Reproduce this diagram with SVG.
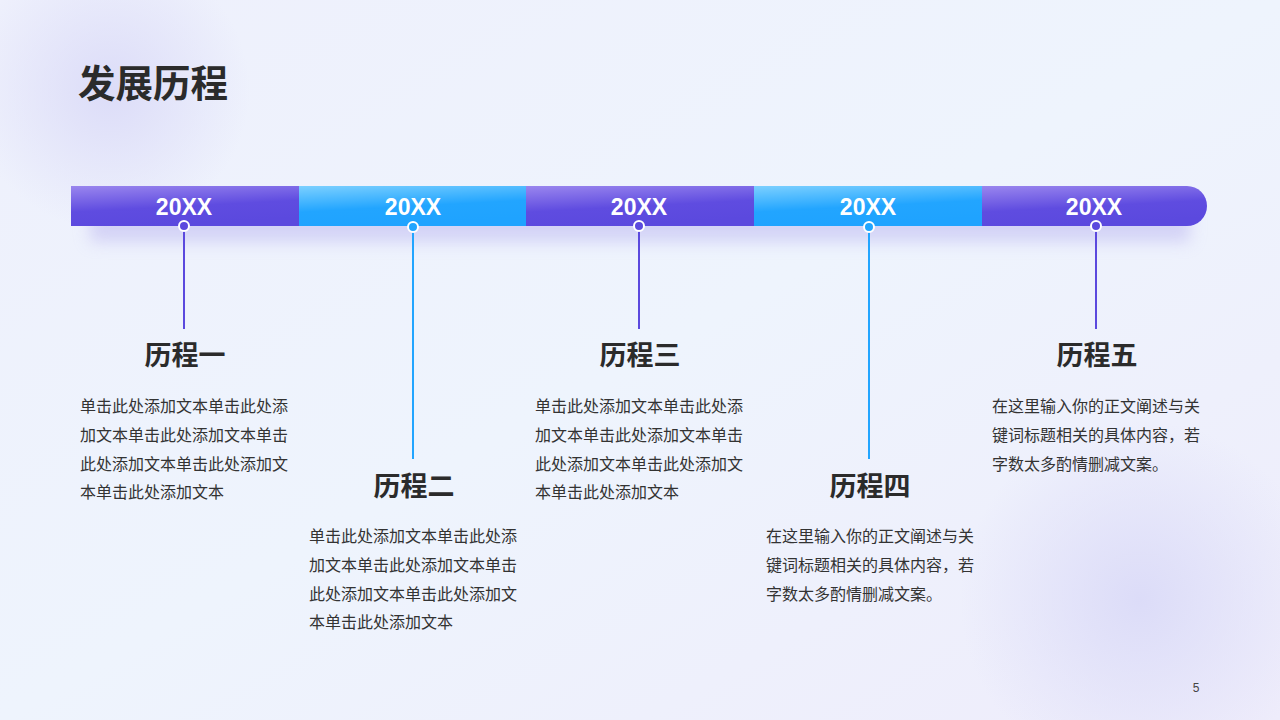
<svg xmlns="http://www.w3.org/2000/svg" width="1280" height="720" viewBox="0 0 1280 720">
<defs>
<linearGradient id="bg" x1="0" y1="0" x2="1" y2="1"><stop offset="0" stop-color="#eef0fc"/><stop offset="0.5" stop-color="#eef4fd"/><stop offset="1" stop-color="#eeecfb"/></linearGradient>
<radialGradient id="glow1" cx="0.5" cy="0.5" r="0.5"><stop offset="0" stop-color="#dcdcf8"/><stop offset="1" stop-color="#dcdcf8" stop-opacity="0"/></radialGradient>
<linearGradient id="gp" x1="0" y1="0" x2="0.3" y2="1"><stop offset="0" stop-color="#9a86ee"/><stop offset="0.6" stop-color="#5f4ce0"/><stop offset="1" stop-color="#5b49de"/></linearGradient>
<linearGradient id="gb" x1="0" y1="0" x2="0.3" y2="1"><stop offset="0" stop-color="#7cd0ff"/><stop offset="0.6" stop-color="#22a5ff"/><stop offset="1" stop-color="#1fa3ff"/></linearGradient>
<filter id="sh" x="-10%" y="-50%" width="120%" height="250%"><feGaussianBlur stdDeviation="8"/></filter>
</defs>
<style>
.yr{font-family:"Liberation Sans",Arial,sans-serif;font-weight:bold;font-size:23px;fill:#fff;text-anchor:middle}
.tt{font-family:"Noto Sans CJK SC",sans-serif;font-weight:bold;font-size:27px;fill:#2b2b2b;text-anchor:middle}
.bd{font-family:"Noto Sans CJK SC",sans-serif;font-size:16px;fill:#333}
.lp{stroke:#5b49de;stroke-width:2}
.lb{stroke:#22a5ff;stroke-width:2}
.dp{fill:#5b49de;stroke:#fff;stroke-width:2}
.db{fill:#22a5ff;stroke:#fff;stroke-width:2}
</style>
<rect width="1280" height="720" fill="url(#bg)"/>
<circle cx="110" cy="90" r="140" fill="url(#glow1)"/>
<circle cx="1140" cy="600" r="180" fill="url(#glow1)"/>
<text x="78" y="97" font-family="Noto Sans CJK SC,sans-serif" font-weight="bold" font-size="37.5" fill="#2b2b2b">发展历程</text>
<rect x="90" y="206" width="1100" height="36" fill="#b9b4f0" opacity="0.5" filter="url(#sh)"/>
<g id="bar">
<rect x="71" y="186" width="228" height="40" fill="url(#gp)"/>
<rect x="299" y="186" width="227" height="40" fill="url(#gb)"/>
<rect x="526" y="186" width="228" height="40" fill="url(#gp)"/>
<rect x="754" y="186" width="228" height="40" fill="url(#gb)"/>
<path d="M982 186 H1187 A20 20 0 0 1 1187 226 H982 Z" fill="url(#gp)"/>
</g>
<g id="connectors">
<line class="lp" x1="184" y1="226" x2="184" y2="329"/>
<line class="lb" x1="413" y1="226" x2="413" y2="459"/>
<line class="lp" x1="639" y1="226" x2="639" y2="329"/>
<line class="lb" x1="869" y1="226" x2="869" y2="459"/>
<line class="lp" x1="1096" y1="226" x2="1096" y2="329"/>
<circle class="dp" cx="184" cy="226" r="5"/>
<circle class="db" cx="413" cy="227" r="5"/>
<circle class="dp" cx="639" cy="226" r="5"/>
<circle class="db" cx="869" cy="227" r="5"/>
<circle class="dp" cx="1096" cy="226" r="5"/>
</g>
<g id="n1"><text class="yr" x="184" y="215">20XX</text><text class="tt" x="185" y="365">历程一</text>
<text class="bd" x="80" y="412">单击此处添加文本单击此处添</text><text class="bd" x="80" y="441">加文本单击此处添加文本单击</text><text class="bd" x="80" y="470">此处添加文本单击此处添加文</text><text class="bd" x="80" y="498">本单击此处添加文本</text></g>
<g id="n2"><text class="yr" x="413" y="215">20XX</text><text class="tt" x="414" y="496">历程二</text>
<text class="bd" x="309" y="542">单击此处添加文本单击此处添</text><text class="bd" x="309" y="571">加文本单击此处添加文本单击</text><text class="bd" x="309" y="600">此处添加文本单击此处添加文</text><text class="bd" x="309" y="628">本单击此处添加文本</text></g>
<g id="n3"><text class="yr" x="639" y="215">20XX</text><text class="tt" x="640" y="365">历程三</text>
<text class="bd" x="535" y="412">单击此处添加文本单击此处添</text><text class="bd" x="535" y="441">加文本单击此处添加文本单击</text><text class="bd" x="535" y="470">此处添加文本单击此处添加文</text><text class="bd" x="535" y="498">本单击此处添加文本</text></g>
<g id="n4"><text class="yr" x="868" y="215">20XX</text><text class="tt" x="870" y="496">历程四</text>
<text class="bd" x="766" y="542">在这里输入你的正文阐述与关</text><text class="bd" x="766" y="571">键词标题相关的具体内容，若</text><text class="bd" x="766" y="600">字数太多酌情删减文案。</text></g>
<g id="n5"><text class="yr" x="1094" y="215">20XX</text><text class="tt" x="1097" y="365">历程五</text>
<text class="bd" x="992" y="412">在这里输入你的正文阐述与关</text><text class="bd" x="992" y="441">键词标题相关的具体内容，若</text><text class="bd" x="992" y="470">字数太多酌情删减文案。</text></g>
<text x="1196" y="692" font-family="Liberation Sans,sans-serif" font-size="12" fill="#444" text-anchor="middle">5</text>
</svg>
